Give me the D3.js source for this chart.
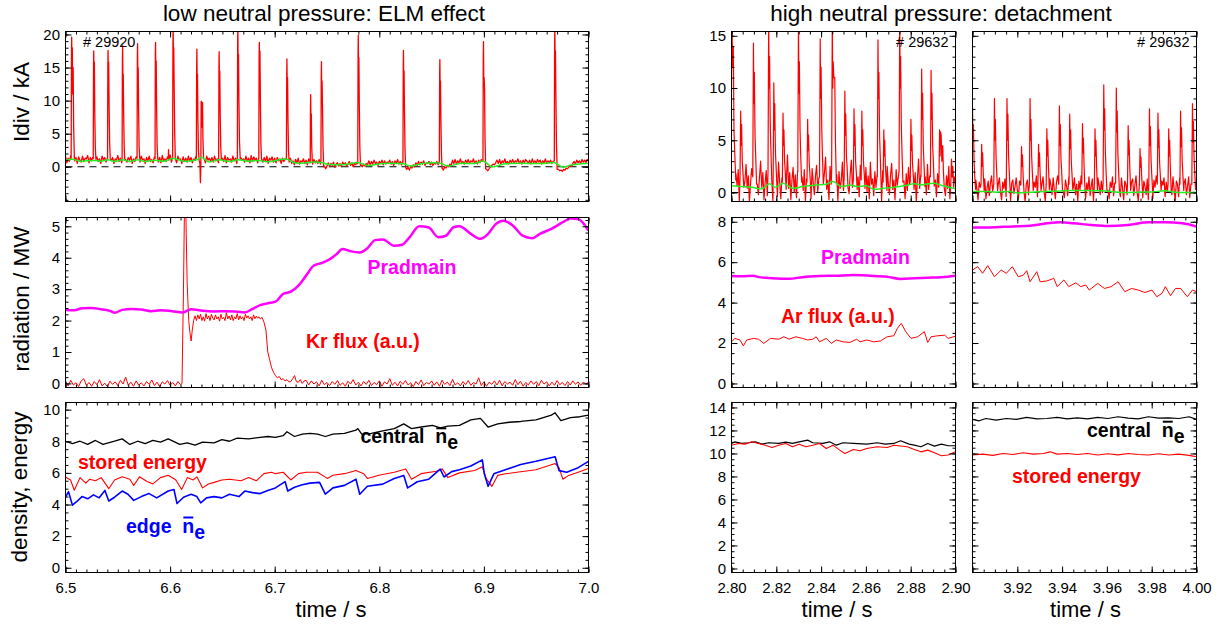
<!DOCTYPE html>
<html><head><meta charset="utf-8">
<script src="https://cdn.jsdelivr.net/npm/d3@7"></script>
<style>
body{margin:0;background:#fff;}
svg text{font-family:"Liberation Sans",Arial,Helvetica,sans-serif;}
</style></head><body>
<script>
// ===================== DATA =====================
// --- left column: shot 29920, 6.5 - 7.0 s ---
const idivBaseStart = 6.5, idivBaseStep = 0.00125;
const idivBase = [
1.6,0.6,1.3,0.8,1.7,0.7,1.2,0.9, 1.4,0.5,1.5,1.0,0.7,1.6,0.8,1.3,
1.2,1.7,0.6,1.4,0.9,1.5,0.6,1.1, 1.5,0.8,1.2,0.5,1.6,1.0,1.4,0.7,
1.3,0.6,1.6,0.9,1.4,0.5,1.2,1.0, 1.7,0.8,1.3,0.6,1.5,0.9,1.1,0.7,
1.4,1.0,1.6,0.5,1.2,0.8,1.5,0.6, 1.3,0.7,1.6,1.0,1.2,0.5,1.4,0.9,
1.6,0.8,1.1,0.6,1.5,1.0,1.3,0.7, 1.4,0.6,1.7,0.9,1.2,0.8,1.5,1.0,
1.8,0.7,1.4,0.9,1.3,0.6,1.6,1.0, 1.2,0.5,1.5,0.8,1.3,0.7,1.6,0.9,
1.4,0.6,1.2,1.0,1.7,0.8,1.3,0.7, 1.5,0.9,1.2,0.6,1.6,1.0,1.3,0.8,
1.4,0.7,1.6,0.9,1.2,0.6,1.5,1.0, 1.3,0.8,1.7,0.6,1.4,1.0,1.2,0.7,
1.6,0.9,1.3,0.5,1.5,0.8,1.4,1.0, 1.2,0.7,1.6,0.9,1.3,0.6,1.7,0.8,
1.5,1.0,1.3,0.6,1.8,0.9,1.2,0.7, 1.4,0.8,1.6,0.5,1.3,1.0,1.5,0.7,
1.3,0.6,1.4,0.9,1.2,0.5,1.3,0.8,
1.2,0.4,1.0,0.6,1.3,0.5,0.9,0.3, 1.1,0.6,1.3,0.4,0.9,0.7,1.2,0.5,
1.0,0.3,1.2,0.6,0.8,0.4,1.1,0.6, 0.9,0.5,1.1,0.4,
0.2,-0.2,0.1,-0.3,
0.1,0.6,0.0,0.5,0.2,0.7,-0.1,0.4, 0.6,0.1,0.5,0.0,0.7,0.3,0.6,0.1,
0.4,0.8,0.2,0.6,0.0,0.5,0.3,0.7,
0.2,-0.1,0.3,0.0,0.4,0.1,0.5,0.3,
0.9,0.3,0.8,0.4,1.0,0.5,0.7,0.2, 0.8,0.5,1.0,0.3,0.9,0.4,0.7,0.6,
1.0,0.4,0.8,0.2,0.9,0.5,1.1,0.4, 0.8,0.3,0.9,0.5,
0.0,-0.4,-0.1,-0.5,0.1,-0.2,0.3,0.0,
0.6,0.2,0.8,0.3,0.7,0.4,0.9,0.2,0.6,0.5,0.8,0.3,0.7,0.2,0.6,0.4,0.8,0.3,
0.0,-0.3,-0.1,-0.5,0.0,-0.2,0.2,0.0,0.4,0.2,
1.0,0.5,1.1,0.4,0.9,0.6,1.2,0.5, 0.8,0.4,1.0,0.6,1.1,0.5,0.9,0.7,
1.2,0.5,0.9,0.4,1.0,0.6,1.1,0.8,
0.3,-0.2,-0.4,-0.6,-0.3,0.0,0.2,0.4,0.3,0.6,
1.0,0.5,1.1,0.4,0.9,0.6,1.2,0.5, 0.8,0.4,1.0,0.6,1.1,0.5,0.9,0.7,
1.2,0.5,0.9,0.4,1.0,0.6,1.1,0.8, 0.5,1.0,0.4,1.2,0.6,0.9,0.5,1.1,
0.7,1.0,0.4,0.9,0.6,1.2,0.5,0.9, 0.6,1.0,0.5,0.8,
0.9,0.2,-0.2,-0.4,-0.6,-0.5,-0.7,-0.4,-0.5,-0.2,-0.3,0.0,0.2,0.1,
0.5,0.8,0.4,1.0,0.6,0.9,0.5,1.1,0.7,1.0,0.6,1.1,0.9];
const idivSpikes = [
[[6.5054,1.3],[6.5057,16.5],[6.5059,19.6],[6.5062,15.0],[6.5065,18.0],[6.5069,11.0],[6.5073,15.0],[6.5078,6.0],[6.5085,1.2]],
[[6.5265,1.2],[6.5268,15.0],[6.5270,17.5],[6.5273,13.0],[6.5276,15.8],[6.5280,8.0],[6.5285,3.0],[6.5291,1.1]],
[[6.5402,1.3],[6.5405,15.5],[6.5407,17.6],[6.5410,11.5],[6.5413,15.8],[6.5417,9.0],[6.5422,3.5],[6.5428,1.2]],
[[6.5541,1.2],[6.5544,16.0],[6.5546,18.3],[6.5549,12.5],[6.5552,14.0],[6.5556,8.0],[6.5561,3.0],[6.5567,1.0]],
[[6.5684,1.3],[6.5687,16.5],[6.5689,18.6],[6.5692,13.5],[6.5695,15.0],[6.5699,8.5],[6.5704,3.0],[6.5710,1.1]],
[[6.5856,1.2],[6.5859,17.0],[6.5861,18.8],[6.5864,12.0],[6.5867,16.0],[6.5871,9.0],[6.5876,3.0],[6.5882,1.2]],
[[6.5983,1.2],[6.5985,2.6],[6.5988,1.0]],
[[6.6024,1.4],[6.6027,18.0],[6.6029,21.5],[6.6032,17.0],[6.6035,18.0],[6.6039,12.0],[6.6044,5.0],[6.6050,1.2]],
[[6.6251,1.3],[6.6254,15.0],[6.6256,17.8],[6.6259,12.0],[6.6262,14.0],[6.6266,7.0],[6.6271,2.5],[6.6277,1.0],[6.6285,0.5],[6.6290,-2.4],[6.6294,0.8],[6.6297,9.9],[6.6302,9.8],[6.6306,6.0],[6.6310,9.7],[6.6314,4.0],[6.6320,1.3]],
[[6.6464,1.2],[6.6467,15.0],[6.6469,17.4],[6.6472,12.0],[6.6475,14.5],[6.6479,8.0],[6.6484,3.0],[6.6490,1.1]],
[[6.6643,1.4],[6.6646,19.0],[6.6648,21.5],[6.6651,14.0],[6.6654,17.0],[6.6658,10.0],[6.6663,4.0],[6.6670,1.2]],
[[6.6848,1.3],[6.6851,16.5],[6.6853,18.8],[6.6856,13.0],[6.6859,17.5],[6.6863,10.0],[6.6868,3.5],[6.6874,1.1]],
[[6.7112,1.2],[6.7115,14.0],[6.7117,16.3],[6.7120,11.0],[6.7123,13.5],[6.7127,7.0],[6.7132,2.5],[6.7138,0.7]],
[[6.7340,0.9],[6.7342,9.0],[6.7344,10.9],[6.7347,6.0],[6.7350,8.0],[6.7354,3.0],[6.7360,0.6]],
[[6.7442,0.9],[6.7445,13.5],[6.7447,15.9],[6.7450,10.0],[6.7453,13.0],[6.7457,9.0],[6.7462,3.0],[6.7468,0.0]],
[[6.7794,0.5],[6.7797,17.0],[6.7799,19.9],[6.7802,14.0],[6.7805,16.5],[6.7809,9.0],[6.7814,3.0],[6.7820,0.2]],
[[6.8226,0.7],[6.8229,15.0],[6.8231,17.6],[6.8234,12.0],[6.8237,14.5],[6.8241,8.0],[6.8246,2.5],[6.8252,-0.1]],
[[6.8574,0.8],[6.8577,14.0],[6.8579,16.2],[6.8582,11.0],[6.8585,13.0],[6.8589,7.0],[6.8594,2.0],[6.8600,-0.2]],
[[6.8991,0.8],[6.8994,16.5],[6.8996,18.9],[6.8999,12.5],[6.9002,13.5],[6.9006,12.0],[6.9011,4.0],[6.9017,-0.3]],
[[6.9673,0.9],[6.9676,18.0],[6.9678,21.5],[6.9681,15.0],[6.9684,17.5],[6.9688,11.0],[6.9693,4.0],[6.9700,-0.4]]
];
const idivSmooth = [[6.500,0.95],[6.5066,1.15],[6.5139,0.85],[6.5271,0.95],[6.534,0.85],[6.5407,1.05],[6.5469,0.8],[6.5546,1.05],[6.5615,0.8],[6.5689,1.05],[6.5762,0.8],[6.5861,1.0],[6.5945,0.85],[6.6029,1.25],[6.6128,0.85],[6.6256,1.05],[6.63,1.45],[6.6366,0.75],[6.6469,1.05],[6.6567,0.8],[6.6648,1.05],[6.6751,0.85],[6.6853,0.95],[6.6934,0.75],[6.7117,1.15],[6.719,0.6],[6.73,0.6],[6.7344,0.7],[6.7447,0.65],[6.752,0.35],[6.7667,0.35],[6.7796,0.65],[6.7884,0.2],[6.8033,0.5],[6.8179,0.5],[6.8231,0.45],[6.8307,0.1],[6.8399,0.45],[6.8579,0.55],[6.8656,0.1],[6.8765,0.5],[6.8912,0.5],[6.8996,0.85],[6.9077,0.0],[6.9205,0.45],[6.9571,0.5],[6.9678,0.6],[6.9755,-0.05],[6.9828,0.25],[7.0,0.55]];

const pradLeft = [[6.5000,2.34],[6.5084,2.33],[6.5158,2.39],[6.5249,2.40],[6.534,2.36],[6.5432,2.30],[6.5469,2.25],[6.5542,2.34],[6.5634,2.37],[6.5725,2.35],[6.5817,2.30],[6.5908,2.33],[6.6018,2.30],[6.6121,2.26],[6.6201,2.36],[6.6311,2.31],[6.6421,2.29],[6.6531,2.30],[6.6641,2.28],[6.6714,2.26],[6.6788,2.37],[6.6861,2.49],[6.6934,2.55],[6.7007,2.60],[6.7081,2.85],[6.7154,2.92],[6.7227,3.11],[6.73,3.43],[6.7374,3.75],[6.7447,3.83],[6.752,3.94],[6.7593,4.12],[6.7648,4.28],[6.7722,4.21],[6.7813,4.17],[6.7886,4.30],[6.796,4.56],[6.8033,4.58],[6.8143,4.38],[6.8216,4.41],[6.8289,4.65],[6.8381,5.0],[6.8473,4.96],[6.8564,4.65],[6.8637,4.70],[6.8711,4.97],[6.8766,5.0],[6.8875,4.76],[6.8967,4.60],[6.904,4.76],[6.9113,5.07],[6.9187,5.18],[6.9278,5.02],[6.937,4.70],[6.9462,4.62],[6.9535,4.76],[6.9645,4.92],[6.9755,5.13],[6.9828,5.25],[6.9901,5.23],[7.0,4.86]];

const krNoise1Start = 6.5, krNoise2Start = 6.7325, krStep = 0.0025;
const krNoise1 = [
0.05,-0.08,0.10,-0.05,0.02,-0.10,0.08,0.15,-0.06,0.03,
-0.09,0.06,-0.04,0.12,-0.08,0.01,-0.10,0.07,-0.03,0.05,
-0.07,0.10,-0.02,0.20,-0.06,0.04,-0.09,0.08,-0.05,0.02,
-0.08,0.06,-0.03,0.11,-0.07,0.04,-0.10,0.05,-0.02,0.09,
-0.06,0.03,-0.08,0.06,-0.04];
const krPuff = [[6.6114,0.0],[6.6128,3.0],[6.6137,5.5],[6.6150,5.5],[6.6163,3.2],[6.6178,2.0],[6.6190,1.6],[6.6201,1.35],[6.6212,1.7],[6.6225,2.0],[6.6238,2.15],[6.6252,2.0],[6.6265,2.18],[6.6278,2.05],[6.6291,2.2],[6.6304,2.0],[6.6317,2.12],[6.6330,1.98],[6.6343,2.22],[6.6356,2.05],[6.6369,2.15],[6.6382,2.0],[6.6395,2.2],[6.6408,2.08],[6.6421,2.02],[6.6434,2.18],[6.6447,2.05],[6.6460,2.12],[6.6473,1.98],[6.6486,2.2],[6.6499,2.05],[6.6512,2.1],[6.6525,2.0],[6.6538,2.25],[6.6551,2.05],[6.6564,2.15],[6.6577,2.02],[6.6590,2.18],[6.6603,2.0],[6.6616,2.12],[6.6629,2.05],[6.6642,2.22],[6.6655,2.02],[6.6668,2.15],[6.6681,2.05],[6.6694,2.12],[6.6707,2.0],[6.6720,2.2],[6.6733,2.08],[6.6746,2.15],[6.6759,2.05],[6.6772,2.12],[6.6785,2.0],[6.6798,2.18],[6.6811,2.06],[6.6824,2.14],[6.6837,2.08],[6.6850,2.12],[6.6863,2.05],[6.6879,2.1],[6.6897,1.95],[6.6916,1.7],[6.6934,1.0],[6.6952,0.75],[6.6970,0.5],[6.6989,0.35],[6.7007,0.25],[6.7025,0.18],[6.7044,0.22],[6.7062,0.12],[6.7081,0.15],[6.7099,0.08],[6.7117,0.12],[6.7136,0.05],[6.7154,0.06],[6.7172,0.15],[6.7190,0.25],[6.7208,0.05],[6.7227,0.04],[6.7245,0.12],[6.7263,0.0],[6.7282,0.08],[6.7300,0.1]];
const krNoise2 = [
-0.05,0.08,-0.02,0.05,-0.08,0.10,-0.04,0.03,-0.07,0.06,
-0.03,0.09,-0.06,0.02,-0.09,0.07,-0.02,0.12,-0.05,0.04,
-0.08,0.06,-0.03,0.10,-0.07,0.03,-0.04,0.08,-0.09,0.05,
-0.02,0.15,-0.06,0.04,-0.08,0.07,-0.03,0.09,-0.05,0.02,
-0.10,0.06,-0.04,0.11,-0.07,0.03,-0.02,0.08,-0.06,0.05,
-0.09,0.10,-0.03,0.04,-0.07,0.13,-0.05,0.02,-0.08,0.06,
-0.04,0.09,-0.06,0.03,-0.02,0.18,-0.07,0.05,-0.09,0.04,
-0.03,0.08,-0.05,0.10,-0.08,0.06,-0.02,0.04,-0.06,0.12,
-0.04,0.07,-0.09,0.03,-0.05,0.08,-0.03,0.06,-0.07,0.10,
-0.02,0.05,-0.08,0.04,-0.06,0.09,-0.04,0.03,-0.07,0.06,
-0.05,0.08,-0.03,0.05,-0.06,0.04,-0.02,0.03];

const neCentralLeft = [[6.5000,8.0],[6.5066,7.85],[6.5139,8.0],[6.5212,7.8],[6.5286,8.05],[6.5359,7.8],[6.5469,8.0],[6.5542,8.15],[6.5615,7.8],[6.5689,8.0],[6.5762,7.85],[6.5835,8.05],[6.5908,7.95],[6.5982,8.15],[6.6092,7.8],[6.6165,7.9],[6.6238,7.75],[6.6311,7.95],[6.6421,7.9],[6.6495,8.1],[6.6568,8.0],[6.6641,8.2],[6.6751,8.15],[6.6861,8.25],[6.6934,8.3],[6.7007,8.25],[6.7081,8.35],[6.7117,8.6],[6.7190,8.3],[6.7264,8.45],[6.7337,8.5],[6.7410,8.45],[6.7484,8.3],[6.7557,8.45],[6.7667,8.5],[6.7777,8.7],[6.7795,8.8],[6.7832,8.45],[6.7923,8.5],[6.8033,8.65],[6.8143,8.8],[6.8234,9.1],[6.8308,8.8],[6.8399,8.9],[6.8509,9.0],[6.8582,8.85],[6.8656,8.95],[6.8766,9.0],[6.8875,9.35],[6.8967,9.45],[6.9040,8.9],[6.9132,9.1],[6.9242,9.2],[6.9352,9.25],[6.9498,9.35],[6.9645,9.65],[6.9681,9.8],[6.9736,9.3],[6.9828,9.5],[6.9919,9.55],[7.0000,9.65]];
const wmhdLeft = [[6.5000,5.74],[6.5048,5.55],[6.5084,4.9],[6.5139,5.7],[6.5194,5.35],[6.5231,5.6],[6.5286,5.5],[6.5341,5.7],[6.5414,5.0],[6.5469,5.55],[6.5542,5.75],[6.5615,5.6],[6.5652,5.2],[6.5707,5.75],[6.5780,5.45],[6.5835,5.3],[6.5908,5.7],[6.5982,5.85],[6.6055,5.55],[6.6110,4.95],[6.6165,5.7],[6.6220,5.55],[6.6256,5.75],[6.6311,5.05],[6.6366,5.3],[6.6421,5.4],[6.6495,5.55],[6.6568,5.6],[6.6678,5.5],[6.6751,5.7],[6.6824,5.5],[6.6897,5.95],[6.6971,6.04],[6.7007,5.95],[6.7081,6.04],[6.7154,5.55],[6.7227,5.95],[6.7300,6.04],[6.7410,6.04],[6.7502,5.65],[6.7557,5.85],[6.7667,5.95],[6.7777,6.15],[6.7850,5.95],[6.7886,5.65],[6.7996,5.85],[6.8143,6.04],[6.8253,6.25],[6.8308,5.6],[6.8399,5.95],[6.8546,6.1],[6.8601,6.25],[6.8656,5.7],[6.8766,6.0],[6.8912,6.15],[6.8985,6.39],[6.9022,5.64],[6.9077,5.15],[6.9132,5.84],[6.9205,5.94],[6.9315,6.04],[6.9498,6.2],[6.9681,6.59],[6.9718,6.33],[6.9755,5.6],[6.9810,5.84],[6.9901,6.04],[7.0000,6.27]];
const neEdgeLeft = [[6.5000,4.46],[6.5029,4.81],[6.5066,3.96],[6.5103,4.16],[6.5158,4.5],[6.5212,4.36],[6.5267,4.61],[6.5322,4.42],[6.5377,4.89],[6.5414,4.22],[6.5469,4.46],[6.5542,4.85],[6.5597,4.65],[6.5652,4.26],[6.5725,4.5],[6.5799,4.69],[6.5872,4.42],[6.5982,4.85],[6.6037,4.95],[6.6066,4.06],[6.6128,4.46],[6.6201,4.65],[6.6256,4.5],[6.6293,4.1],[6.6348,4.42],[6.6421,4.5],[6.6495,4.42],[6.6568,4.65],[6.6659,4.5],[6.6714,4.85],[6.6788,4.75],[6.6861,4.69],[6.6934,4.89],[6.7007,5.05],[6.7099,5.45],[6.7125,4.85],[6.7190,5.09],[6.7264,5.25],[6.7337,5.35],[6.7429,5.4],[6.7484,4.65],[6.7557,5.05],[6.7667,5.21],[6.7777,5.6],[6.7813,4.65],[6.7886,5.15],[6.8033,5.29],[6.8143,5.64],[6.8234,5.84],[6.8271,5.05],[6.8363,5.44],[6.8473,5.6],[6.8582,6.24],[6.8619,5.74],[6.8692,6.08],[6.8766,6.2],[6.8875,6.43],[6.8985,6.82],[6.9004,5.94],[6.9040,5.15],[6.9095,5.94],[6.9205,6.2],[6.9352,6.53],[6.9498,6.73],[6.9681,7.02],[6.9718,6.14],[6.9792,6.04],[6.9901,6.33],[7.0000,6.73]];

// --- right column: shot 29632, windows 2.80-2.90 s and 3.90-4.00 s ---
const idivAStart = 2.8, idivBStart = 3.9, idivRStep = 0.0005;
const idivABase = [
3.5,1.2,2.6,-0.4,1.8,0.6,2.2,-0.8,1.4,0.3,
2.0,-0.6,1.1,2.7,0.4,1.6,-0.9,0.9,2.3,0.1,
1.7,-0.5,2.4,0.8,-0.2,1.5,3.0,0.5,1.9,-0.7,
0.9,2.1,-0.3,1.3,2.8,0.2,1.6,-0.8,2.2,0.7,
1.8,-0.4,2.9,1.0,-0.6,1.4,0.3,2.5,-0.2,1.1,
3.6,0.4,1.9,-0.7,1.2,2.4,0.0,1.7,-0.5,2.0,
0.6,2.7,-0.3,1.5,0.2,2.2,-0.8,1.3,3.2,0.5,
1.8,-0.6,2.3,0.9,-0.2,1.6,2.6,0.1,1.4,-0.9,
2.1,0.7,-0.4,1.9,3.4,0.3,1.2,-0.7,2.5,0.8,
1.5,-0.3,2.8,0.6,1.7,-0.8,2.0,0.4,1.1,2.9,
0.2,1.6,-0.5,2.3,0.9,-0.1,1.8,3.1,0.5,1.3,
-0.7,2.2,0.7,1.5,-0.4,2.6,0.3,1.9,-0.9,1.2,
2.4,0.1,1.6,-0.6,2.9,0.8,1.3,-0.3,2.0,0.5,
1.7,3.3,0.2,1.4,-0.8,2.1,0.6,1.8,-0.5,2.5,
0.9,-0.2,1.6,2.8,0.3,1.2,-0.7,2.2,0.7,1.5,
-0.4,2.0,0.5,3.0,1.1,-0.6,1.8,0.2,2.4,0.8,
1.4,-0.3,2.6,0.6,1.9,-0.9,1.3,3.2,0.4,1.7,
-0.5,2.1,0.9,1.5,-0.2,2.7,0.3,1.6,-0.8,2.0,
0.6,2.9,1.2,-0.4,1.8,0.5,2.3,-0.7,1.4,0.9,
2.2,-0.3,1.6,0.4,2.5,-0.6,1.2,1.9,0.2,1.5,
1.0];
const idivASpikes = [
[[2.8000,10.0],[2.8002,16.5],[2.8005,12.0],[2.8008,14.0],[2.8011,6.0],[2.8015,3.5],[2.8019,1.2]],
[[2.8038,1.5],[2.8041,7.8],[2.8043,4.5],[2.8045,6.5],[2.8048,3.0],[2.8051,2.0],[2.8055,0.5]],
[[2.8095,1.5],[2.8098,14.3],[2.8100,8.5],[2.8102,11.5],[2.8105,5.5],[2.8108,3.5],[2.8112,0.8]],
[[2.8163,2.0],[2.8166,16.5],[2.8168,10.0],[2.8170,13.0],[2.8173,6.5],[2.8176,4.0],[2.8180,1.0]],
[[2.8186,1.5],[2.8189,10.5],[2.8191,6.0],[2.8193,8.5],[2.8196,4.0],[2.8199,2.5],[2.8203,0.5]],
[[2.8227,1.0],[2.8230,7.6],[2.8232,4.5],[2.8234,6.0],[2.8237,3.0],[2.8240,2.0],[2.8244,0.3]],
[[2.8296,2.0],[2.8299,16.5],[2.8301,9.5],[2.8303,12.5],[2.8306,6.0],[2.8309,3.5],[2.8313,1.0]],
[[2.8337,1.0],[2.8340,7.0],[2.8342,4.0],[2.8344,5.5],[2.8347,2.8],[2.8350,1.8],[2.8354,0.2]],
[[2.8393,1.5],[2.8396,14.7],[2.8398,9.0],[2.8400,12.0],[2.8403,6.0],[2.8406,3.5],[2.8410,0.8]],
[[2.8447,2.0],[2.8450,16.5],[2.8452,10.0],[2.8454,12.5],[2.8457,11.0],[2.8461,11.0],[2.8464,5.0],[2.8468,1.0]],
[[2.8503,1.5],[2.8506,9.7],[2.8508,5.5],[2.8510,7.5],[2.8513,3.5],[2.8516,2.5],[2.8520,0.5]],
[[2.8544,1.2],[2.8547,8.0],[2.8549,4.5],[2.8551,6.5],[2.8554,3.0],[2.8557,2.0],[2.8561,0.3]],
[[2.8579,1.2],[2.8582,7.8],[2.8584,4.5],[2.8586,6.0],[2.8589,3.0],[2.8592,2.0],[2.8596,0.4]],
[[2.8651,1.5],[2.8654,14.6],[2.8656,9.0],[2.8658,11.5],[2.8661,5.5],[2.8664,3.5],[2.8668,0.8]],
[[2.8677,1.0],[2.8680,6.0],[2.8682,3.5],[2.8684,5.0],[2.8687,2.5],[2.8690,1.5],[2.8694,0.2]],
[[2.8748,2.0],[2.8751,16.5],[2.8753,10.0],[2.8755,13.0],[2.8758,6.5],[2.8761,4.0],[2.8765,1.0]],
[[2.8798,1.0],[2.8801,7.0],[2.8803,4.0],[2.8805,5.5],[2.8808,2.8],[2.8811,1.8],[2.8815,0.3]],
[[2.8846,1.5],[2.8849,11.8],[2.8851,7.0],[2.8853,9.5],[2.8856,4.5],[2.8859,3.0],[2.8863,0.6]],
[[2.8888,1.5],[2.8891,11.7],[2.8893,7.0],[2.8895,9.5],[2.8898,4.5],[2.8901,3.0],[2.8905,0.6]],
[[2.8926,1.0],[2.8929,6.0],[2.8931,3.5],[2.8933,5.8],[2.8936,5.5],[2.8939,3.0],[2.8943,4.5],[2.8946,2.0],[2.8950,0.4]],
[[2.8979,0.8],[2.8982,3.2],[2.8985,1.5],[2.8988,2.5],[2.8992,0.5]]
];
const idivBBase = [
2.5,0.8,-0.4,1.2,0.3,-0.7,1.0,0.5,1.5,-0.2,
0.7,1.3,-0.6,0.4,1.1,-0.3,0.9,1.6,0.1,-0.8,
0.6,1.2,-0.2,0.8,1.4,0.0,-0.7,1.0,0.4,1.3,
-0.4,0.7,1.5,0.2,-0.8,0.9,1.2,-0.1,0.6,1.4,
0.3,-0.6,1.1,0.7,-0.3,1.5,0.4,-0.9,0.8,1.2,
-0.2,0.9,1.4,0.1,-0.7,1.0,0.5,1.6,-0.4,0.6,
1.2,-0.3,0.8,1.5,0.0,-0.8,1.1,0.4,-0.5,1.3,
0.7,-0.2,1.4,0.3,-0.6,1.0,1.6,0.2,-0.9,0.9,
1.3,0.1,-0.5,1.2,0.6,-0.3,1.5,0.4,-0.7,1.0,
0.5,1.4,-0.2,0.8,-0.8,1.1,0.3,1.6,-0.4,0.7,
1.2,-0.6,0.9,0.2,1.5,-0.3,0.6,1.3,-0.8,1.0,
0.4,-0.5,1.4,0.7,-0.2,1.1,0.0,1.6,-0.7,0.8,
1.3,0.2,-0.6,1.0,0.5,1.5,-0.3,0.9,0.1,-0.9,
1.2,0.6,-0.4,1.4,0.3,-0.7,1.1,0.8,-0.2,1.5,
0.2,-0.6,1.0,1.3,-0.3,0.7,1.6,0.0,-0.8,0.9,
1.4,0.3,-0.5,1.1,0.6,-0.2,1.3,-0.7,0.8,1.5,
0.0,-0.6,1.2,0.5,1.6,-0.3,0.9,0.2,-0.8,1.1,
0.7,1.4,-0.4,1.0,0.1,-0.7,1.3,0.6,-0.2,1.5,
0.3,-0.8,1.1,0.8,-0.4,1.4,0.2,1.0,-0.6,0.9,
1.3,-0.2,0.6,1.5,-0.5,0.8,0.1,1.2,-0.7,0.6,
1.0];
const idivBSpikes = [
[[3.9000,8.2],[3.9002,5.0],[3.9004,6.5],[3.9007,3.0],[3.9010,1.5],[3.9014,0.3]],
[[3.9038,0.8],[3.9041,4.6],[3.9043,2.5],[3.9045,3.8],[3.9048,1.8],[3.9052,0.2]],
[[3.9095,0.8],[3.9098,9.0],[3.9100,5.0],[3.9102,7.0],[3.9105,3.5],[3.9108,2.0],[3.9112,0.2]],
[[3.9151,0.8],[3.9154,9.0],[3.9156,5.0],[3.9158,7.5],[3.9161,3.5],[3.9164,2.0],[3.9168,0.2]],
[[3.9216,0.8],[3.9219,4.4],[3.9221,2.5],[3.9223,3.6],[3.9226,1.6],[3.9230,0.1]],
[[3.9254,0.8],[3.9257,9.0],[3.9259,5.0],[3.9261,7.0],[3.9264,3.5],[3.9267,2.0],[3.9271,0.2]],
[[3.9292,0.8],[3.9295,4.6],[3.9297,2.5],[3.9299,3.8],[3.9302,1.8],[3.9306,0.2]],
[[3.9329,0.8],[3.9332,6.1],[3.9334,3.5],[3.9336,5.0],[3.9339,2.5],[3.9343,0.3]],
[[3.9385,0.8],[3.9388,8.3],[3.9390,4.5],[3.9392,6.5],[3.9395,3.2],[3.9398,2.0],[3.9402,0.2]],
[[3.9431,0.8],[3.9434,7.5],[3.9436,4.2],[3.9438,6.0],[3.9441,3.0],[3.9444,1.8],[3.9448,0.2]],
[[3.9488,0.8],[3.9491,6.6],[3.9493,3.8],[3.9495,5.2],[3.9498,2.6],[3.9502,0.3]],
[[3.9544,0.8],[3.9547,6.1],[3.9549,3.5],[3.9551,5.0],[3.9554,2.5],[3.9558,0.2]],
[[3.9583,0.9],[3.9586,10.3],[3.9588,6.0],[3.9590,8.0],[3.9593,4.0],[3.9596,2.2],[3.9600,0.2]],
[[3.9639,0.9],[3.9642,10.0],[3.9644,5.8],[3.9646,7.8],[3.9649,3.8],[3.9652,2.2],[3.9656,0.2]],
[[3.9692,0.8],[3.9695,6.4],[3.9697,3.6],[3.9699,5.0],[3.9702,2.5],[3.9706,0.2]],
[[3.9745,0.8],[3.9748,4.2],[3.9750,2.4],[3.9752,3.4],[3.9755,1.6],[3.9759,0.1]],
[[3.9787,0.8],[3.9790,8.0],[3.9792,4.5],[3.9794,6.3],[3.9797,3.2],[3.9800,1.8],[3.9804,0.2]],
[[3.9825,0.8],[3.9828,7.6],[3.9830,4.3],[3.9832,6.0],[3.9835,3.0],[3.9838,1.8],[3.9842,0.2]],
[[3.9873,0.8],[3.9876,6.1],[3.9878,3.5],[3.9880,5.0],[3.9883,2.5],[3.9887,0.2]],
[[3.9926,0.8],[3.9929,7.8],[3.9931,4.4],[3.9933,6.2],[3.9936,3.1],[3.9939,1.8],[3.9943,0.2]],
[[3.9979,0.8],[3.9982,8.5],[3.9984,4.8],[3.9986,6.8],[3.9989,3.4],[3.9992,2.0],[3.9996,0.3]]
];
const idivASmooth = [[2.8000,0.64],[2.8045,0.57],[2.8091,0.51],[2.8136,0.35],[2.8169,0.83],[2.8196,0.51],[2.8230,0.89],[2.8272,0.41],[2.8317,0.57],[2.8378,0.73],[2.8423,0.80],[2.8453,1.05],[2.8491,0.57],[2.8529,0.73],[2.8559,0.57],[2.8604,0.64],[2.8634,0.32],[2.8680,0.41],[2.8725,0.51],[2.8770,0.64],[2.8816,0.83],[2.8846,0.73],[2.8906,0.89],[2.8944,0.64],[2.9000,0.35]];
const idivBSmooth = [[3.9000,0.10],[3.9060,0.10],[3.9106,0.03],[3.9166,0.10],[3.9196,-0.03],[3.9257,0.03],[3.9317,0.10],[3.9378,0.13],[3.9438,0.19],[3.9514,0.19],[3.9574,0.16],[3.9619,0.10],[3.9680,0.0],[3.9740,0.03],[3.9801,0.06],[3.9861,0.16],[3.9906,0.03],[4.0000,0.03]];

const pradA = [[2.8000,5.31],[2.8045,5.30],[2.8098,5.33],[2.8121,5.26],[2.8181,5.21],[2.8257,5.18],[2.8317,5.26],[2.8393,5.31],[2.8468,5.33],[2.8544,5.36],[2.8619,5.33],[2.8695,5.28],[2.8755,5.17],[2.8816,5.20],[2.8876,5.23],[2.8937,5.26],[2.9000,5.33]];
const arA = [[2.8000,2.06],[2.8015,2.23],[2.8038,2.15],[2.8053,1.86],[2.8068,2.15],[2.8098,2.23],[2.8121,2.19],[2.8144,1.98],[2.8174,2.23],[2.8211,2.19],[2.8234,2.31],[2.8257,2.19],[2.8287,2.31],[2.8317,2.23],[2.8340,2.15],[2.8363,2.19],[2.8378,2.31],[2.8393,2.06],[2.8423,2.23],[2.8446,1.98],[2.8468,2.15],[2.8498,2.06],[2.8529,2.03],[2.8559,2.19],[2.8574,2.06],[2.8604,2.15],[2.8634,2.06],[2.8665,2.10],[2.8695,2.31],[2.8725,2.36],[2.8740,2.72],[2.8758,2.97],[2.8778,2.56],[2.8801,2.23],[2.8831,2.31],[2.8861,2.56],[2.8876,2.03],[2.8891,2.31],[2.8921,2.36],[2.8952,2.39],[2.8967,2.23],[2.9000,2.34]];
const pradB = [[3.9000,7.71],[3.9076,7.72],[3.9181,7.77],[3.9257,7.80],[3.9332,7.92],[3.9393,7.97],[3.9453,7.92],[3.9529,7.84],[3.9604,7.79],[3.9695,7.84],[3.9785,7.97],[3.9861,7.97],[3.9937,7.92],[4.0000,7.76]];
const arB = [[3.9000,5.61],[3.9023,5.78],[3.9045,5.45],[3.9068,5.83],[3.9098,5.28],[3.9128,5.61],[3.9151,5.45],[3.9178,5.78],[3.9204,5.28],[3.9227,5.36],[3.9242,5.58],[3.9257,5.03],[3.9287,5.53],[3.9302,5.03],[3.9332,5.07],[3.9363,5.20],[3.9378,4.79],[3.9408,5.12],[3.9430,4.79],[3.9461,4.98],[3.9483,4.79],[3.9506,4.87],[3.9521,4.62],[3.9559,4.95],[3.9589,4.70],[3.9619,4.79],[3.9650,5.03],[3.9680,4.54],[3.9710,4.70],[3.9740,4.62],[3.9770,4.50],[3.9801,4.62],[3.9823,4.29],[3.9846,4.46],[3.9861,4.79],[3.9884,4.34],[3.9906,4.70],[3.9929,4.70],[3.9959,4.29],[3.9982,4.62],[4.0000,4.54]];

const neCentralA = [[2.8000,10.87],[2.8015,11.01],[2.8045,10.87],[2.8076,10.93],[2.8106,11.01],[2.8136,10.81],[2.8166,10.93],[2.8211,10.87],[2.8242,10.99],[2.8272,10.87],[2.8302,11.01],[2.8340,11.16],[2.8363,10.93],[2.8408,10.87],[2.8438,11.01],[2.8468,10.72],[2.8498,10.93],[2.8544,10.87],[2.8604,10.81],[2.8650,10.93],[2.8687,10.81],[2.8725,10.87],[2.8755,11.10],[2.8793,10.81],[2.8816,10.72],[2.8846,10.58],[2.8876,10.87],[2.8906,10.64],[2.8937,10.81],[2.8967,10.67],[2.9000,10.67]];
const wmhdA = [[2.8000,10.72],[2.8030,10.87],[2.8060,10.81],[2.8091,11.01],[2.8121,10.87],[2.8151,10.72],[2.8181,10.52],[2.8211,10.72],[2.8242,10.87],[2.8272,10.58],[2.8302,10.81],[2.8332,10.58],[2.8363,10.72],[2.8393,10.87],[2.8423,10.43],[2.8453,10.72],[2.8483,10.29],[2.8506,10.00],[2.8544,10.35],[2.8574,10.23],[2.8604,10.43],[2.8650,10.58],[2.8695,10.52],[2.8725,10.72],[2.8785,10.58],[2.8816,10.35],[2.8846,10.14],[2.8876,10.29],[2.8906,10.06],[2.8937,9.80],[2.8967,9.86],[2.9000,10.14]];
const neCentralB = [[3.9000,12.96],[3.9030,12.84],[3.9060,13.04],[3.9106,12.90],[3.9151,13.04],[3.9196,12.96],[3.9242,13.13],[3.9287,13.01],[3.9332,13.04],[3.9378,13.13],[3.9423,13.01],[3.9468,13.10],[3.9514,13.01],[3.9559,13.13],[3.9604,13.04],[3.9650,13.19],[3.9695,13.07],[3.9740,13.01],[3.9785,13.19],[3.9831,13.07],[3.9876,13.10],[3.9921,13.04],[3.9967,13.19],[4.0000,12.96]];
const wmhdB = [[3.9000,9.86],[3.9045,9.94],[3.9091,9.83],[3.9136,10.00],[3.9181,9.91],[3.9227,10.06],[3.9272,9.94],[3.9317,10.00],[3.9347,10.14],[3.9378,9.94],[3.9423,10.00],[3.9468,9.91],[3.9514,10.00],[3.9559,9.86],[3.9604,9.97],[3.9650,9.88],[3.9695,10.00],[3.9740,9.91],[3.9785,9.86],[3.9831,9.97],[3.9876,9.86],[3.9921,9.94],[3.9967,9.83],[4.0000,9.71]];

// tick label lists
const xTicksLeft = [6.5,6.6,6.7,6.8,6.9,7.0];
const xTicksA = [2.80,2.82,2.84,2.86,2.88,2.90];
const xTicksB = [3.92,3.94,3.96,3.98,4.00];
const yTicksIdivL = [0,5,10,15,20];
const yTicksIdivR = [0,5,10,15];
const yTicksRadL = [0,1,2,3,4,5];
const yTicksRadR = [0,2,4,6,8];
const yTicksDenL = [0,2,4,6,8,10];
const yTicksDenR = [0,2,4,6,8,10,12,14];

// ===================== DRAW =====================
const W=1222,H=624;
const FONT='"Liberation Sans",Arial,Helvetica,sans-serif';
const svg=d3.select("body").append("svg").attr("width",W).attr("height",H);
svg.append("rect").attr("width",W).attr("height",H).attr("fill","#fff");

const LX=[65.5,588.5], AX=[731.5,955.5], BX=[972.5,1196.5];
const R1=[31.5,201.5], R2=[217.5,387.5], R3=[402.5,572.5];
let cid=0;
function rng(a,b,s){const n=Math.round((b-a)/s);return d3.range(n+1).map(i=>+(a+i*s).toFixed(6));}

function panel(px,py,xd,yd){
  const x=d3.scaleLinear().domain(xd).range(px);
  const y=d3.scaleLinear().domain(yd).range([py[1],py[0]]);
  const id="clip"+(cid++);
  svg.append("clipPath").attr("id",id).append("rect")
    .attr("x",px[0]).attr("y",py[0]).attr("width",px[1]-px[0]).attr("height",py[1]-py[0]);
  const g=svg.append("g").attr("clip-path",`url(#${id})`);
  return {x,y,g,px,py};
}
function axes(p,o){
  const {x,y,px,py}=p;
  const ag=svg.append("g");
  function put(axis,tx,ty,vals,size,fmt,pad){
    axis.tickValues(vals).tickSize(-size).tickPadding(pad||0).tickFormat(fmt||"");
    const gg=ag.append("g").attr("transform",`translate(${tx},${ty})`).call(axis);
    gg.select(".domain").remove();
    gg.attr("font-size",15).attr("font-family",FONT);
    gg.selectAll("line").attr("stroke","#000").attr("stroke-width",1);
    gg.selectAll("text").attr("fill","#000");
    return gg;
  }
  put(d3.axisBottom(x),0,py[1],o.xMinor,3);
  put(d3.axisTop(x),0,py[0],o.xMinor,3);
  put(d3.axisLeft(y),px[0],0,o.yMinor,3);
  put(d3.axisRight(y),px[1],0,o.yMinor,3);
  put(d3.axisBottom(x),0,py[1],o.xMajor,6);
  put(d3.axisTop(x),0,py[0],o.xMajor,6);
  put(d3.axisLeft(y),px[0],0,o.yMajor,6);
  put(d3.axisRight(y),px[1],0,o.yMajor,6);
  if(o.xLabels) put(d3.axisBottom(x),0,py[1],o.xLabels,0,o.xFmt,10).selectAll("line").remove();
  if(o.yLabels) put(d3.axisLeft(y),px[0],0,o.yLabels,0,d3.format("d"),5.5).selectAll("line").remove();
  ag.append("rect").attr("x",px[0]).attr("y",py[0]).attr("width",px[1]-px[0]).attr("height",py[1]-py[0])
    .attr("fill","none").attr("stroke","#000").attr("stroke-width",1);
}
function draw(p,data,color,width,curve,dash){
  const ln=d3.line().x(d=>p.x(d[0])).y(d=>p.y(d[1]));
  if(curve) ln.curve(curve);
  const path=p.g.append("path").datum(data).attr("d",ln).attr("fill","none")
    .attr("stroke",color).attr("stroke-width",width).attr("stroke-linejoin","round");
  if(dash) path.attr("stroke-dasharray",dash);
  return path;
}
function gridSeries(start,step,vals){return vals.map((v,i)=>[+(start+i*step).toFixed(6),v]);}
function mergeSpikes(base,spikes){
  const wins=spikes.map(s=>[s[0][0],s[s.length-1][0]]);
  const kept=base.filter(pt=>!wins.some(w=>pt[0]>=w[0]-1e-9&&pt[0]<=w[1]+1e-9));
  return kept.concat(...spikes).sort((a,b)=>a[0]-b[0]);
}
function txt(s,x,y,opt){
  const t=svg.append("text").attr("x",x).attr("y",y).text(s)
    .attr("font-size",opt.size||15).attr("fill",opt.color||"#000")
    .attr("font-weight",opt.bold?"bold":"normal").attr("text-anchor",opt.anchor||"start")
    .attr("font-family",FONT);
  if(opt.rotate) t.attr("transform",`rotate(-90,${x},${y})`);
  return t;
}
function neLabel(prefix,x,y,color){
  const t=svg.append("text").attr("x",x).attr("y",y).attr("fill",color)
    .attr("font-weight","bold").attr("font-size",19.5).attr("font-family",FONT);
  const pre=prefix+"\u00a0\u00a0";
  t.append("tspan").text(pre);
  t.append("tspan").text("n");
  t.append("tspan").attr("dy",6).text("e");
  const ext=t.node().getExtentOfChar(pre.length);
  svg.append("line").attr("x1",ext.x+1).attr("x2",ext.x+ext.width-1)
    .attr("y1",y-15).attr("y2",y-15).attr("stroke",color).attr("stroke-width",2);
}

// ---- Left column ----
const pTL=panel(LX,R1,[6.5,7.0],[-5.25,20.45]);
draw(pTL,[[6.5,0],[7.0,0]],"#000",1.2,null,"7,5");
draw(pTL,mergeSpikes(gridSeries(idivBaseStart,idivBaseStep,idivBase),idivSpikes),"#ff0000",1.3);
draw(pTL,idivSmooth,"#22ee22",1.5,d3.curveCatmullRom);
axes(pTL,{xMinor:rng(6.5,7.0,0.01),xMajor:xTicksLeft,yMinor:rng(-5,20,1),yMajor:yTicksIdivL,yLabels:yTicksIdivL});

const pML=panel(LX,R2,[6.5,7.0],[-0.13,5.28]);
const krAll=gridSeries(krNoise1Start,krStep,krNoise1).concat(krPuff,gridSeries(krNoise2Start,krStep,krNoise2));
draw(pML,krAll,"#ff0000",1);
draw(pML,pradLeft,"#ff00ff",2.5,d3.curveMonotoneX);
axes(pML,{xMinor:rng(6.5,7.0,0.01),xMajor:xTicksLeft,yMinor:rng(0,5.2,0.2),yMajor:yTicksRadL,yLabels:yTicksRadL});

const pBL=panel(LX,R3,[6.5,7.0],[-0.3,10.45]);
draw(pBL,neCentralLeft,"#000",1.3);
draw(pBL,wmhdLeft,"#ff0000",1.1);
draw(pBL,neEdgeLeft,"#0000ff",1.6);
axes(pBL,{xMinor:rng(6.5,7.0,0.01),xMajor:xTicksLeft,yMinor:rng(0,10,0.5),yMajor:yTicksDenL,yLabels:yTicksDenL,xLabels:xTicksLeft,xFmt:d3.format(".1f")});

// ---- Right column A ----
const pTA=panel(AX,R1,[2.8,2.9],[-0.86,15.41]);
draw(pTA,[[2.8,0],[2.9,0]],"#000",1.2,null,"7,5");
draw(pTA,mergeSpikes(gridSeries(idivAStart,idivRStep,idivABase),idivASpikes),"#ff0000",1.2);
draw(pTA,idivASmooth,"#22ee22",1.5,d3.curveCatmullRom);
axes(pTA,{xMinor:rng(2.8,2.9,0.005),xMajor:xTicksA,yMinor:rng(0,15,1),yMajor:yTicksIdivR,yLabels:yTicksIdivR});

const pMA=panel(AX,R2,[2.8,2.9],[-0.2,8.21]);
draw(pMA,arA,"#ff0000",1);
draw(pMA,pradA,"#ff00ff",2.5,d3.curveMonotoneX);
axes(pMA,{xMinor:rng(2.8,2.9,0.005),xMajor:xTicksA,yMinor:rng(0,8,0.5),yMajor:yTicksRadR,yLabels:yTicksRadR});

const pBA=panel(AX,R3,[2.8,2.9],[-0.35,14.43]);
draw(pBA,neCentralA,"#000",1.2);
draw(pBA,wmhdA,"#ff0000",1.1);
axes(pBA,{xMinor:rng(2.8,2.9,0.005),xMajor:xTicksA,yMinor:rng(0,14,0.5),yMajor:yTicksDenR,yLabels:yTicksDenR,xLabels:xTicksA,xFmt:d3.format(".2f")});

// ---- Right column B ----
const pTB=panel(BX,R1,[3.9,4.0],[-0.86,15.41]);
draw(pTB,[[3.9,0],[4.0,0]],"#000",1.2,null,"7,5");
draw(pTB,mergeSpikes(gridSeries(idivBStart,idivRStep,idivBBase),idivBSpikes),"#ff0000",1.2);
draw(pTB,idivBSmooth,"#22ee22",1.5,d3.curveCatmullRom);
axes(pTB,{xMinor:rng(3.9,4.0,0.005),xMajor:rng(3.9,4.0,0.02),yMinor:rng(0,15,1),yMajor:yTicksIdivR});

const pMB=panel(BX,R2,[3.9,4.0],[-0.2,8.21]);
draw(pMB,arB,"#ff0000",1);
draw(pMB,pradB,"#ff00ff",2.5,d3.curveMonotoneX);
axes(pMB,{xMinor:rng(3.9,4.0,0.005),xMajor:rng(3.9,4.0,0.02),yMinor:rng(0,8,0.5),yMajor:yTicksRadR});

const pBB=panel(BX,R3,[3.9,4.0],[-0.35,14.43]);
draw(pBB,neCentralB,"#000",1.2);
draw(pBB,wmhdB,"#ff0000",1.1);
axes(pBB,{xMinor:rng(3.9,4.0,0.005),xMajor:rng(3.9,4.0,0.02),yMinor:rng(0,14,0.5),yMajor:yTicksDenR,xLabels:xTicksB,xFmt:d3.format(".2f")});

// ---- texts ----
txt("low neutral pressure: ELM effect",324,20.5,{size:22.5,anchor:"middle"});
txt("high neutral pressure: detachment",941,20.5,{size:22.5,anchor:"middle"});
txt("Idiv / kA",28.5,102,{size:22.5,anchor:"middle",rotate:true});
txt("radiation / MW",28.5,299,{size:22.5,anchor:"middle",rotate:true});
txt("density, energy",27,487,{size:22.5,anchor:"middle",rotate:true});
txt("time / s",331,617,{size:22,anchor:"middle"});
txt("time / s",837,617,{size:22,anchor:"middle"});
txt("time / s",1085.5,617,{size:22,anchor:"middle"});
txt("# 29920",83,47,{size:14.5});
txt("# 29632",948.5,47,{size:14.5,anchor:"end"});
txt("# 29632",1189.5,47,{size:14.5,anchor:"end"});
txt("Pradmain",367.5,274,{size:19.5,bold:true,color:"#ff00ff"});
txt("Kr flux (a.u.)",306,347.5,{size:19.5,bold:true,color:"#ff0000"});
txt("Pradmain",821,264,{size:19.5,bold:true,color:"#ff00ff"});
txt("Ar flux (a.u.)",781,323,{size:19.5,bold:true,color:"#ff0000"});
txt("stored energy",78,469,{size:19.5,bold:true,color:"#ff0000"});
neLabel("central",360.5,443.3,"#000");
neLabel("edge",126,532.5,"#0000ff");
neLabel("central",1087,436.7,"#000");
txt("stored energy",1012,483,{size:19.5,bold:true,color:"#ff0000"});
</script>
</body></html>
